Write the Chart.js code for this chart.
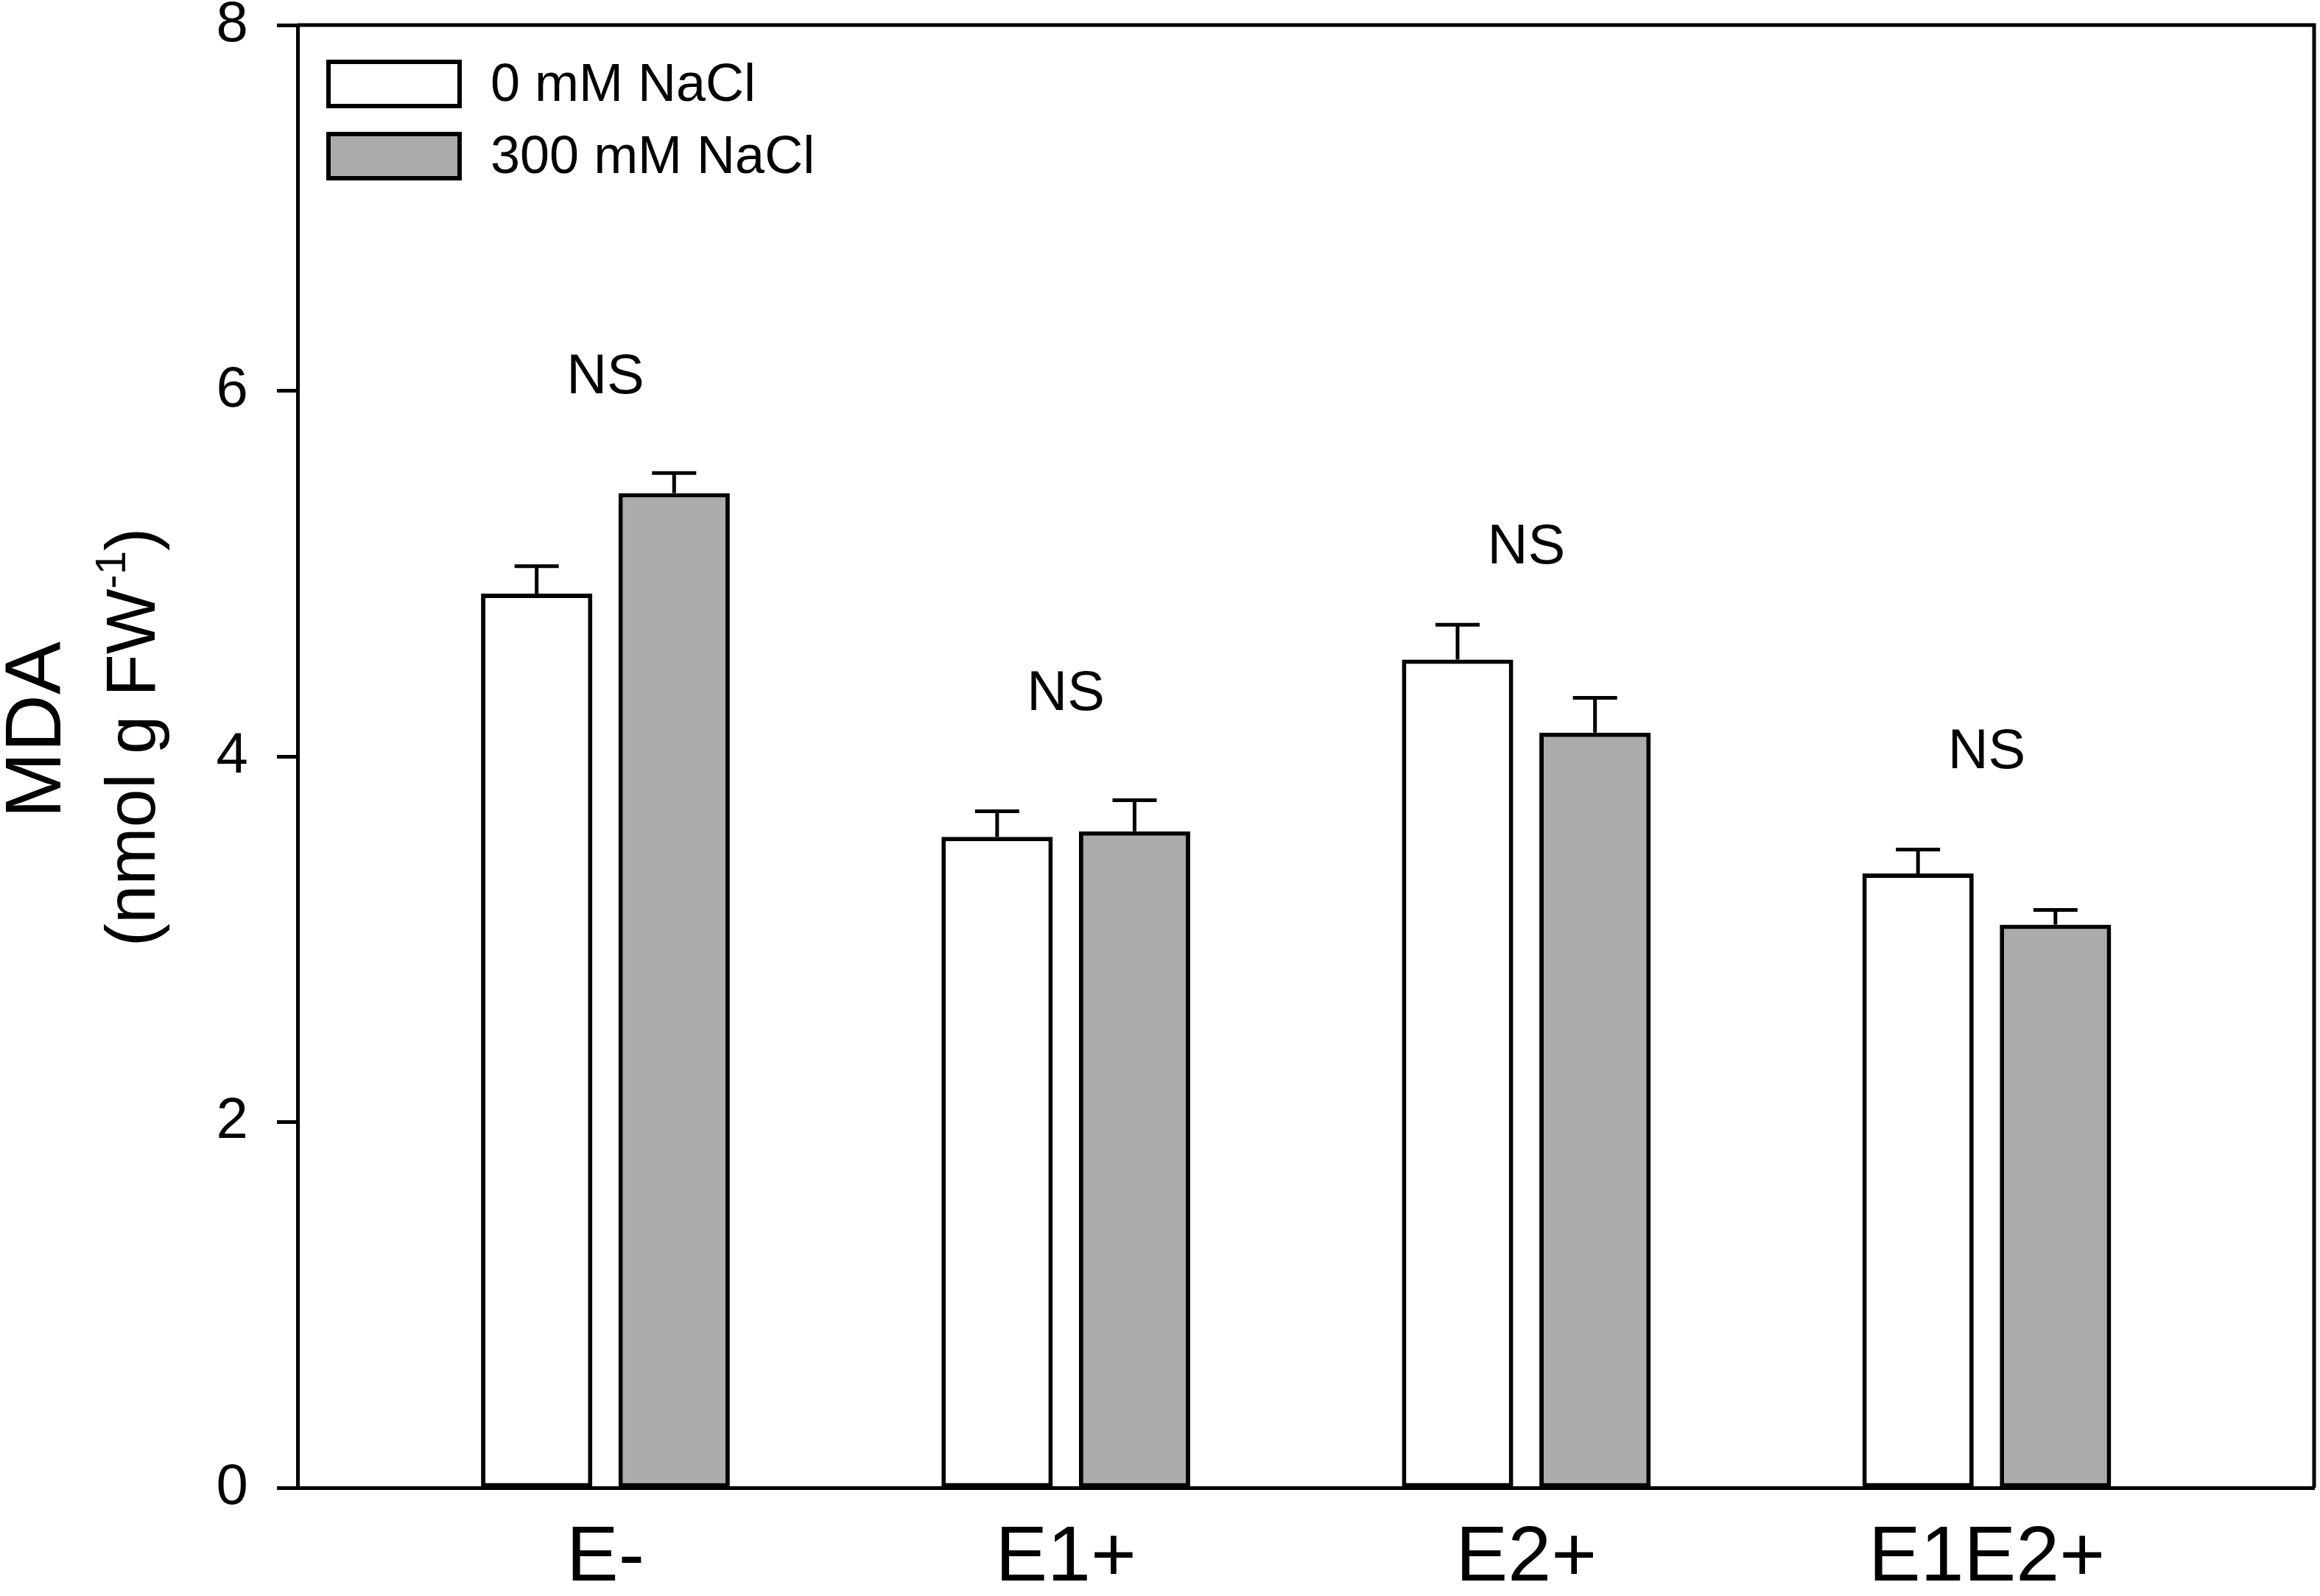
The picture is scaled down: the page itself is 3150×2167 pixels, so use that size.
<!DOCTYPE html>
<html>
<head>
<title>MDA under NaCl</title>
<script src="https://cdn.jsdelivr.net/npm/chart.js@4.4.1/dist/chart.umd.min.js"></script>
<style>
  html, body { margin: 0; padding: 0; background: #fff; }
  canvas { display: block; }
</style>
</head>
<body>
<canvas id="myChart" width="3150" height="2167" style="width:3150px;height:2167px"></canvas>

<script>
// values
var categories = ['E-', 'E1+', 'E2+', 'E1E2+'];
var seriesNames = ['0 mM NaCl', '300 mM NaCl'];
var salt0 = [4.89, 3.56, 4.53, 3.36];
var salt0Err = [0.15, 0.14, 0.19, 0.13];
var salt300 = [5.44, 3.59, 4.13, 3.08];
var salt300Err = [0.11, 0.17, 0.19, 0.08];
var nsLevel = [6.07, 4.34, 5.14, 4.02];
var nsText = ['NS', 'NS', 'NS', 'NS'];

var FONT = "'Liberation Sans', Arial, Helvetica, sans-serif";
var errors = [salt0Err, salt300Err];

function points(vals) {
    var out = [];
    for (var i in vals) out.push({ x: Number(i), y: vals[i] });
    return out;
}

// error bars (upper half only) + NS labels
var extrasPlugin = {
    id: 'extras',
    afterDatasetsDraw: function (chart) {
        var ctx = chart.ctx;
        var ys = chart.scales.y, xs = chart.scales.x;
        ctx.save();
        ctx.strokeStyle = '#000';
        ctx.lineWidth = 5;
        chart.data.datasets.forEach(function (ds, i) {
            var meta = chart.getDatasetMeta(i);
            meta.data.forEach(function (bar, j) {
                var top = ys.getPixelForValue(ds.data[j].y + errors[i][j]);
                ctx.beginPath();
                ctx.moveTo(bar.x, bar.y);
                ctx.lineTo(bar.x, top);
                ctx.moveTo(bar.x - 30, top);
                ctx.lineTo(bar.x + 30, top);
                ctx.stroke();
            });
        });
        ctx.fillStyle = '#000';
        ctx.font = '76px ' + FONT;
        ctx.textAlign = 'center';
        ctx.textBaseline = 'middle';
        for (var j in categories) {
            ctx.fillText(nsText[j], xs.getPixelForValue(Number(j)), ys.getPixelForValue(nsLevel[j]));
        }
        ctx.restore();
    },
    afterDraw: function (chart) {
        var ctx = chart.ctx;
        var a = chart.chartArea;
        ctx.save();
        // top and right frame
        ctx.strokeStyle = '#000';
        ctx.lineWidth = 5;
        ctx.beginPath();
        ctx.moveTo(a.left, a.top);
        ctx.lineTo(a.right, a.top);
        ctx.lineTo(a.right, a.bottom);
        ctx.stroke();

        // legend inside plot
        ctx.font = '72px ' + FONT;
        ctx.textAlign = 'left';
        ctx.textBaseline = 'middle';
        chart.data.datasets.forEach(function (ds, i) {
            var bx = a.left + 42, by = a.top + 50 + i * 98;
            ctx.fillStyle = ds.backgroundColor;
            ctx.fillRect(bx, by, 178, 60);
            ctx.lineWidth = 6;
            ctx.strokeRect(bx, by, 178, 60);
            ctx.fillStyle = '#000';
            ctx.fillText(ds.label, bx + 178 + 42, by + 33);
        });

        // y axis title, two lines, rotated
        ctx.translate(52, 991);
        ctx.rotate(-Math.PI / 2);
        ctx.textAlign = 'center';
        ctx.font = '108px ' + FONT;
        ctx.fillText('MDA', 0, 0);
        ctx.restore();

        ctx.save();
        ctx.translate(184, 1001);
        ctx.rotate(-Math.PI / 2);
        ctx.fillStyle = '#000';
        ctx.textBaseline = 'middle';
        ctx.textAlign = 'left';
        var main = '94px ' + FONT, sup = '58px ' + FONT;
        ctx.font = main;
        var w1 = ctx.measureText('(nmol g FW').width;
        var w3 = ctx.measureText(')').width;
        ctx.font = sup;
        var w2 = ctx.measureText('-1').width;
        var x0 = -(w1 + w2 + w3) / 2;
        ctx.font = main;
        ctx.fillText('(nmol g FW', x0, 0);
        ctx.font = sup;
        ctx.fillText('-1', x0 + w1, -30);
        ctx.font = main;
        ctx.fillText(')', x0 + w1 + w2, 0);
        ctx.restore();
    }
};

var chartdata = {
    datasets: [
        {
            label: seriesNames[0],
            data: points(salt0),
            backgroundColor: '#ffffff',
            borderColor: '#000000',
            borderWidth: 6,
            borderSkipped: false,
            categoryPercentage: 0.597,
            barPercentage: 0.81
        },
        {
            label: seriesNames[1],
            data: points(salt300),
            backgroundColor: '#ababab',
            borderColor: '#000000',
            borderWidth: 6,
            borderSkipped: false,
            categoryPercentage: 0.597,
            barPercentage: 0.81
        }
    ]
};

var chartTarget = document.getElementById('myChart');

var barChart = new Chart(chartTarget, {
    type: 'bar',
    data: chartdata,
    options: {
        responsive: false,
        devicePixelRatio: 1,
        animation: false,
        layout: { padding: { top: 34, right: 8, left: 0, bottom: 0 } },
        plugins: {
            legend: { display: false },
            tooltip: { enabled: false }
        },
        scales: {
            x: {
                type: 'linear',
                offset: false,
                min: -0.6686,
                max: 3.711,
                afterBuildTicks: function (scale) {
                    scale.ticks = categories.map(function (c, i) { return { value: i }; });
                },
                afterFit: function (scale) {
                    scale.height = 147;
                    scale.paddingLeft = 0;
                    scale.paddingRight = 0;
                },
                ticks: {
                    autoSkip: false,
                    maxRotation: 0,
                    padding: 33,
                    color: '#000',
                    font: { family: FONT, size: 106 },
                    callback: function (v) { return categories[v]; }
                },
                grid: { display: false, drawTicks: false },
                border: { display: true, color: '#000', width: 5 }
            },
            y: {
                min: 0,
                max: 8,
                afterFit: function (scale) {
                    scale.width = 404;
                    scale.paddingTop = 0;
                    scale.paddingBottom = 0;
                },
                ticks: {
                    stepSize: 2,
                    padding: 39,
                    color: '#000',
                    font: { family: FONT, size: 78 }
                },
                grid: {
                    drawOnChartArea: false,
                    drawTicks: true,
                    tickLength: 28,
                    tickWidth: 5,
                    tickColor: '#000'
                },
                border: { display: true, color: '#000', width: 5 }
            }
        }
    },
    plugins: [extrasPlugin]
});
</script>
</body>
</html>
